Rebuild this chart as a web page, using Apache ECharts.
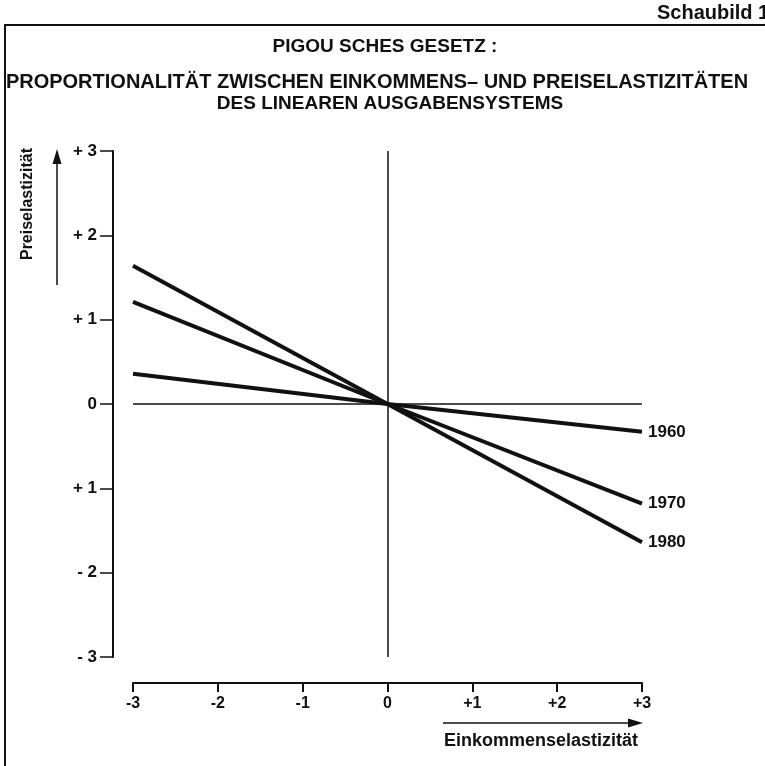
<!DOCTYPE html>
<html>
<head>
<meta charset="utf-8">
<script src="https://cdn.jsdelivr.net/npm/echarts@6/dist/echarts.min.js"></script>
<style>
html,body{margin:0;padding:0;background:#fff;}
#chart{width:765px;height:766px;}
</style>
</head>
<body>
<div id="chart"></div>
<script>
// ---- data ----
const xValues = [-3, 0, 3];
const years = ['1960', '1970', '1980'];
const values1960 = [0.36, 0, -0.33];
const values1970 = [1.21, 0, -1.18];
const values1980 = [1.64, 0, -1.64];
const yTickLabels = {'3': '+ 3', '2': '+ 2', '1': '+ 1', '0': '0', '-1': '+ 1', '-2': '- 2', '-3': '- 3'};
const xTickLabels = {'-3': '-3', '-2': '-2', '-1': '-1', '0': '0', '1': '+1', '2': '+2', '3': '+3'};
const titleLines = ['PIGOU SCHES GESETZ :', 'PROPORTIONALITÄT ZWISCHEN EINKOMMENS– UND PREISELASTIZITÄTEN', 'DES LINEAREN AUSGABENSYSTEMS'];
const figLabel = 'Schaubild 1';
const yName = 'Preiselastizität';
const xName = 'Einkommenselastizität';

const FONT = '"Liberation Sans", Arial, sans-serif';
const allValues = [values1960, values1970, values1980];

function mkSeries(name, vals) {
  return {
    name: name,
    type: 'line',
    data: xValues.map((x, i) => [x, vals[i]]),
    symbol: 'none',
    lineStyle: {color: '#111', width: 4},
    endLabel: {show: true, formatter: '{a}', color: '#111', fontFamily: FONT, fontWeight: 'bold', fontSize: 17, distance: 6},
    z: 5,
    animation: false
  };
}

const series = years.map((y, i) => mkSeries(y, allValues[i]));
series.push({
  type: 'line', data: [], silent: true,
  markLine: {
    symbol: 'none', silent: true, label: {show: false},
    lineStyle: {color: '#111', width: 1.5, type: 'solid'},
    data: [{xAxis: 0}, {yAxis: 0}],
    animation: false
  }
});

const chart = echarts.init(document.getElementById('chart'), null, {renderer: 'canvas'});
chart.setOption({
  animation: false,
  backgroundColor: '#fff',
  grid: {left: 133, right: 123, top: 151, bottom: 109},
  xAxis: {
    type: 'value', min: -3, max: 3, interval: 1, position: 'bottom', offset: 26,
    axisLine: {show: true, onZero: false, lineStyle: {color: '#111', width: 2}},
    axisTick: {show: true, inside: false, length: 9, lineStyle: {color: '#111', width: 2}},
    axisLabel: {color: '#111', fontFamily: FONT, fontWeight: 'bold', fontSize: 16, margin: 13,
      formatter: v => xTickLabels[String(v)]},
    splitLine: {show: false}
  },
  yAxis: {
    type: 'value', min: -3, max: 3, interval: 1, position: 'left', offset: 20,
    axisLine: {show: true, onZero: false, lineStyle: {color: '#111', width: 2}},
    axisTick: {show: true, inside: false, length: 13, lineStyle: {color: '#111', width: 1.5}},
    axisLabel: {color: '#111', fontFamily: FONT, fontWeight: 'bold', fontSize: 17, margin: 16,
      formatter: v => yTickLabels[String(v)]},
    splitLine: {show: false}
  },
  series: series,
  graphic: [
    // frame
    {type: 'polyline', shape: {points: [[5, 766], [5, 25], [765, 25]]}, style: {stroke: '#111', lineWidth: 2, fill: null}},
    {type: 'text', x: 657, y: 3, style: {text: figLabel, font: 'bold 20px ' + FONT, fill: '#111'}},
    {type: 'text', x: 385, y: 47, style: {text: titleLines[0], font: 'bold 19px ' + FONT, fill: '#111', align: 'center', verticalAlign: 'middle'}},
    {type: 'text', x: 377, y: 82, style: {text: titleLines[1], font: 'bold 20px ' + FONT, fill: '#111', align: 'center', verticalAlign: 'middle'}},
    {type: 'text', x: 390, y: 104, style: {text: titleLines[2], font: 'bold 19px ' + FONT, fill: '#111', align: 'center', verticalAlign: 'middle'}},
    // y axis name + arrow
    {type: 'text', x: 28, y: 204, rotation: Math.PI / 2, style: {text: yName, font: 'bold 16px ' + FONT, fill: '#111', align: 'center', verticalAlign: 'middle'}},
    {type: 'line', shape: {x1: 57, y1: 285, x2: 57, y2: 160}, style: {stroke: '#111', lineWidth: 1.5}},
    {type: 'polygon', shape: {points: [[57, 149], [52.5, 164], [61.5, 164]]}, style: {fill: '#111'}},
    // x axis name + arrow
    {type: 'line', shape: {x1: 443, y1: 723, x2: 630, y2: 723}, style: {stroke: '#111', lineWidth: 1.5}},
    {type: 'polygon', shape: {points: [[643, 723], [628, 718.5], [628, 727.5]]}, style: {fill: '#111'}},
    {type: 'text', x: 541, y: 741, style: {text: xName, font: 'bold 18px ' + FONT, fill: '#111', align: 'center', verticalAlign: 'middle'}}
  ]
});
</script>
</body>
</html>
